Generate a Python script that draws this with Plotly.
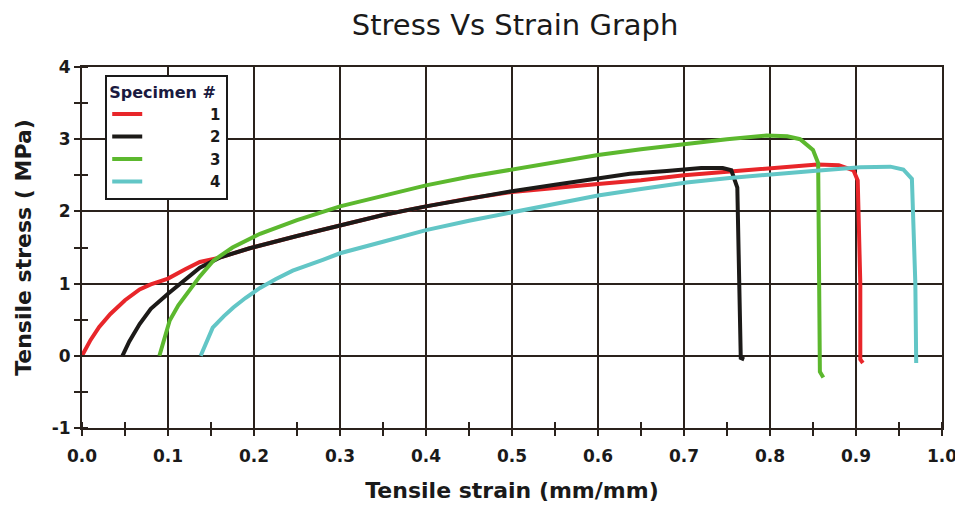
import plotly.graph_objects as go

# ---------------- data ----------------
s1_strain = [0.0, 0.01, 0.02, 0.033, 0.05, 0.067, 0.08, 0.1, 0.12, 0.137, 0.16, 0.195, 0.25, 0.3,
             0.35, 0.4, 0.45, 0.5, 0.55, 0.6, 0.65, 0.7, 0.75, 0.8, 0.855, 0.88, 0.897, 0.902,
             0.905, 0.905, 0.908]
s1_stress = [0.0, 0.22, 0.4, 0.58, 0.77, 0.92, 0.99, 1.07, 1.2, 1.3, 1.36, 1.49, 1.66, 1.81,
             1.95, 2.07, 2.18, 2.27, 2.33, 2.38, 2.43, 2.5, 2.55, 2.6, 2.65, 2.64, 2.57, 2.43,
             1.0, -0.05, -0.1]

s2_strain = [0.047, 0.055, 0.067, 0.08, 0.1, 0.12, 0.137, 0.16, 0.195, 0.25, 0.3, 0.35, 0.4,
             0.45, 0.5, 0.55, 0.6, 0.637, 0.68, 0.72, 0.745, 0.755, 0.762, 0.765, 0.766, 0.77]
s2_stress = [0.0, 0.2, 0.44, 0.65, 0.86, 1.05, 1.22, 1.36, 1.49, 1.66, 1.81, 1.95, 2.07,
             2.18, 2.28, 2.37, 2.45, 2.52, 2.56, 2.6, 2.6, 2.57, 2.33, 0.5, -0.03, -0.05]

s3_strain = [0.09, 0.095, 0.102, 0.112, 0.122, 0.137, 0.153, 0.175, 0.207, 0.25, 0.3, 0.35,
             0.4, 0.45, 0.5, 0.55, 0.6, 0.65, 0.7, 0.75, 0.796, 0.82, 0.835, 0.85, 0.856,
             0.857, 0.858, 0.862]
s3_stress = [0.0, 0.2, 0.49, 0.7, 0.86, 1.1, 1.32, 1.5, 1.69, 1.88, 2.07, 2.22,
             2.36, 2.48, 2.58, 2.68, 2.78, 2.86, 2.93, 3.0, 3.05, 3.04, 3.0, 2.85, 2.67,
             1.0, -0.22, -0.3]

s4_strain = [0.138, 0.145, 0.152, 0.165, 0.176, 0.19, 0.207, 0.225, 0.245, 0.28, 0.3, 0.35,
             0.4, 0.45, 0.5, 0.55, 0.6, 0.65, 0.703, 0.75, 0.804, 0.85, 0.905, 0.94, 0.955,
             0.965, 0.969, 0.969, 0.97]
s4_stress = [0.0, 0.2, 0.39, 0.55, 0.67, 0.8, 0.94, 1.06, 1.18, 1.33, 1.42, 1.58,
             1.74, 1.87, 1.99, 2.11, 2.22, 2.31, 2.4, 2.46, 2.52, 2.56, 2.61, 2.62, 2.58,
             2.45, 1.0, -0.05, -0.1]

specimens = ["1", "2", "3", "4"]
y_tickvals = [-1, 0, 1, 2, 3, 4]
y_ticktext = ["-1", "0", "1", "2", "3", "4"]
x_tickvals = [0.0, 0.1, 0.2, 0.3, 0.4, 0.5, 0.6, 0.7, 0.8, 0.9, 1.0]
x_ticktext = ["0.0", "0.1", "0.2", "0.3", "0.4", "0.5", "0.6", "0.7", "0.8", "0.9", "1.0"]

colors = ["#e8262a", "#1c1a18", "#5cb82e", "#62c6c6"]
series = [(s1_strain, s1_stress), (s2_strain, s2_stress), (s3_strain, s3_stress), (s4_strain, s4_stress)]

FONT = "DejaVu Sans"
GRID = "#2a221c"
TXT = "#1a1a1a"

fig = go.Figure()
for name, (xs, ys), c in zip(specimens, series, colors):
    fig.add_trace(go.Scatter(
        x=xs, y=ys, mode="lines", name="\u00a0" * 12 + name,
        line=dict(color=c, width=4),
    ))

# invisible trace on overlay axes so the inside (crossing) tick halves render
fig.add_trace(go.Scatter(x=[None], y=[None], xaxis="x2", yaxis="y2", showlegend=False, hoverinfo="skip"))

# page body has an 8px margin: figure is offset by 8px and sized so the page doesn't scroll
fig.update_layout(
    width=955, height=495,
    margin=dict(l=74, r=21, t=59, b=75),
    paper_bgcolor="white", plot_bgcolor="white",
    title=dict(text="Stress Vs Strain Graph", x=0.531, xanchor="center", y=0.966, yanchor="middle",
               font=dict(family=FONT, size=29, color=TXT)),
    legend=dict(
        x=0.027, y=0.978, xanchor="left", yanchor="top",
        bgcolor="white", bordercolor=TXT, borderwidth=2,
        title=dict(text="Specimen #", font=dict(family=FONT, size=16, color="#1a1a40", weight="bold")),
        font=dict(family=FONT, size=15, color=TXT, weight="bold"),
        tracegroupgap=0, itemwidth=30,
    ),
    showlegend=True,
    xaxis2=dict(overlaying="x", range=[0, 1.0], showgrid=False, showticklabels=False, zeroline=False,
                tickvals=[], ticks="", automargin=False,
                minor=dict(dtick=0.05, tick0=0, ticks="inside", ticklen=6, tickwidth=2, tickcolor=GRID, showgrid=False)),
    yaxis2=dict(overlaying="y", range=[-1, 4], showgrid=False, showticklabels=False, zeroline=False,
                tickvals=[], ticks="", automargin=False,
                minor=dict(dtick=0.5, tick0=0, ticks="inside", ticklen=6, tickwidth=2, tickcolor=GRID, showgrid=False)),
)

fig.layout.xaxis.update(
    range=[0, 1.0], tickvals=x_tickvals, ticktext=x_ticktext, automargin=False,
    showgrid=True, gridcolor=GRID, gridwidth=2,
    showline=True, linecolor=GRID, linewidth=2, mirror=True,
    ticks="outside", ticklen=6, tickwidth=2, tickcolor=GRID,
    minor=dict(dtick=0.05, tick0=0, ticks="outside", ticklen=6, tickwidth=2, tickcolor=GRID, showgrid=False),
    tickfont=dict(family=FONT, size=17, color=TXT, weight="bold"),
    ticklabelstandoff=6,
    title=dict(text="Tensile strain (mm/mm)", font=dict(family=FONT, size=22, color=TXT, weight="bold"), standoff=22),
    zeroline=False,
)
fig.layout.yaxis.update(
    range=[-1, 4], tickvals=y_tickvals, ticktext=y_ticktext, automargin=False,
    showgrid=True, gridcolor=GRID, gridwidth=2,
    showline=True, linecolor=GRID, linewidth=2, mirror=True,
    ticks="outside", ticklen=6, tickwidth=2, tickcolor=GRID,
    minor=dict(dtick=0.5, tick0=0, ticks="outside", ticklen=6, tickwidth=2, tickcolor=GRID, showgrid=False),
    tickfont=dict(family=FONT, size=17, color=TXT, weight="bold"),
    title=dict(text="Tensile stress ( MPa)", font=dict(family=FONT, size=22, color=TXT, weight="bold"), standoff=14),
    zeroline=False,
)

fig.write_html("out.html")
